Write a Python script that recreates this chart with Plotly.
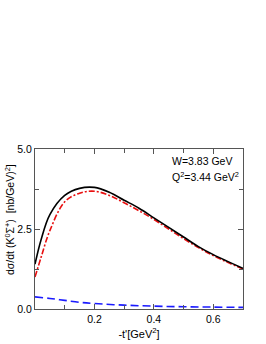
import plotly.graph_objects as go

t_black = [0.0, 0.02, 0.05, 0.1, 0.15, 0.2, 0.25, 0.3, 0.35, 0.4, 0.45, 0.5, 0.55, 0.6, 0.65, 0.7]
total = [1.40, 2.15, 2.95, 3.55, 3.77, 3.80, 3.65, 3.40, 3.15, 2.85, 2.55, 2.25, 1.95, 1.70, 1.48, 1.27]

t_red = [0.0, 0.02, 0.05, 0.1, 0.15, 0.2, 0.25, 0.3, 0.35, 0.4, 0.45, 0.5, 0.55, 0.6, 0.65, 0.7]
part_red = [1.00, 1.60, 2.45, 3.35, 3.62, 3.68, 3.55, 3.32, 3.07, 2.80, 2.50, 2.20, 1.92, 1.67, 1.45, 1.25]

t_blue = [0.0, 0.05, 0.1, 0.15, 0.2, 0.3, 0.4, 0.5, 0.6, 0.7]
part_blue = [0.38, 0.33, 0.27, 0.21, 0.17, 0.12, 0.09, 0.07, 0.06, 0.05]

x_ticks = [0.2, 0.4, 0.6]
x_tick_labels = ["0.2", "0.4", "0.6"]
y_ticks = [0.0, 2.5, 5.0]
y_tick_labels = ["0.0", "2.5", "5.0"]

FONT = "Liberation Sans, Arial, sans-serif"

fig = go.Figure()
fig.add_trace(go.Scatter(x=t_blue, y=part_blue, mode="lines",
                         line=dict(color="#1a1aff", width=1.6, dash="8px,4px", shape="spline"), showlegend=False))
fig.add_trace(go.Scatter(x=t_red, y=part_red, mode="lines",
                         line=dict(color="#e81010", width=1.6, dash="6px,2px,2px,2px", shape="spline"), showlegend=False))
fig.add_trace(go.Scatter(x=t_black, y=total, mode="lines",
                         line=dict(color="black", width=1.6, shape="spline"), showlegend=False))

axis_common = dict(showgrid=False, zeroline=False, showline=True, linecolor="#555", linewidth=1,
                   mirror="ticks", ticks="inside", ticklen=5, tickcolor="#555", automargin=False,
                   tickfont=dict(family=FONT, size=10.5, color="black"))

fig.update_xaxes(range=[0, 0.7], tickvals=x_ticks, ticktext=x_tick_labels,
                 minor=dict(tickvals=[0.1, 0.3, 0.5], ticks="inside", ticklen=4, tickcolor="#555"),
                 title=dict(text="-t'[GeV<sup>2</sup>]", font=dict(family=FONT, size=11, color="black"), standoff=6),
                 **axis_common)
fig.update_yaxes(range=[0, 5], tickvals=y_ticks, ticktext=y_tick_labels,
                 minor=dict(tickvals=[1.25, 3.75], ticks="inside", ticklen=4, tickcolor="#555"),
                 **axis_common)

# y-axis title placed as a rotated annotation (offset upward like the reference)
fig.add_annotation(x=(9 - 35) / 208, y=(309 - 220) / 160, xref="paper", yref="paper",
                   xanchor="center", yanchor="middle", textangle=-90,
                   text="dσ/dt (K<sup>0</sup>Σ<sup>+</sup>)  [nb/GeV)<sup>2</sup>]", showarrow=False,
                   font=dict(family=FONT, size=10.5, color="black"))

fig.add_annotation(x=(170 - 35) / 208, y=(309 - 161) / 160, xref="paper", yref="paper",
                   xanchor="left", yanchor="middle",
                   text="W=3.83 GeV", showarrow=False, font=dict(family=FONT, size=10.5, color="black"))
fig.add_annotation(x=(170 - 35) / 208, y=(309 - 176) / 160, xref="paper", yref="paper",
                   xanchor="left", yanchor="middle",
                   text="Q<sup>2</sup>=3.44 GeV<sup>2</sup>", showarrow=False,
                   font=dict(family=FONT, size=10.5, color="black"))

fig.update_layout(width=266, height=344, margin=dict(l=35, r=23, t=149, b=35),
                  plot_bgcolor="white", paper_bgcolor="white")

fig.write_html("out.html", config={"displayModeBar": False},
               post_script="document.body.style.margin='0';")
